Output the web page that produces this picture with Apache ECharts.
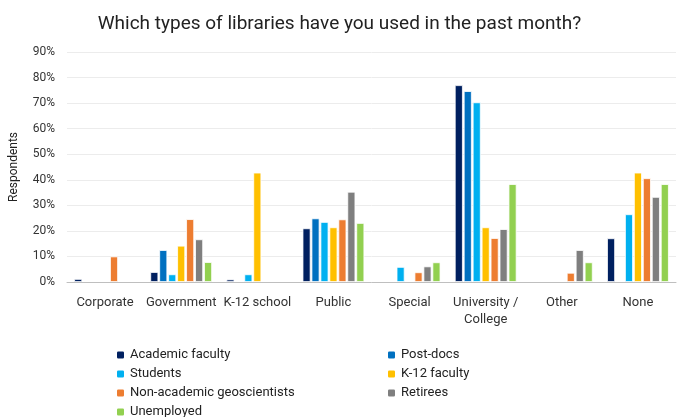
<!DOCTYPE html>
<html><head><meta charset="utf-8">
<script src="https://cdn.jsdelivr.net/npm/echarts@6/dist/echarts.min.js"></script>
<style>html,body{margin:0;padding:0;background:#fff}#c{width:679px;height:417px}</style>
</head><body><div id="c"></div>
<script>
var categories = ['Corporate','Government','K-12 school','Public','Special','University /\nCollege','Other','None'];
var seriesNames = ['Academic faculty','Post-docs','Students','K-12 faculty','Non-academic geoscientists','Retirees','Unemployed'];
var colors = ['#002060','#0070C0','#00B0F0','#FFC000','#ED7D31','#7F7F7F','#92D050'];
var academicFaculty = [1.2, 3.9, 1.0, 21.0, 0, 77.0, 0, 17.1];
var postDocs        = [0, 12.5, 0, 24.9, 0, 74.7, 0, 0];
var students        = [0, 3.0, 3.0, 23.5, 5.9, 70.3, 0, 26.5];
var k12Faculty      = [0, 14.2, 42.8, 21.4, 0, 21.4, 0, 42.8];
var nonAcademic     = [10.0, 24.6, 0, 24.5, 3.8, 17.2, 3.6, 40.6];
var retirees        = [0, 16.7, 0, 35.3, 6.1, 20.7, 12.5, 33.3];
var unemployed      = [0, 7.8, 0, 23.1, 7.7, 38.3, 7.7, 38.3];
var yTicks = [0,10,20,30,40,50,60,70,80,90];

var allData = [academicFaculty, postDocs, students, k12Faculty, nonAcademic, retirees, unemployed];
var font = 'Roboto';
var chart = echarts.init(document.getElementById('c'));
chart.setOption({
  animation: false,
  color: colors,
  title: {text: 'Which types of libraries have you used in the past month?', left: 'center', top: 10,
    textStyle: {fontFamily: font, fontSize: 19, fontWeight: 'normal', color: '#222'}},
  grid: {left: 66, right: 3, top: 52, bottom: 135},
  legend: {orient: 'horizontal', left: 115, top: 347, width: 560, itemWidth: 9, itemHeight: 9, itemGap: 3,
     data: seriesNames, padding: 0,
     textStyle: {fontFamily: font, fontSize: 13, color: '#222', width: 253, lineHeight: 16, padding: [0,0,0,0]}},
  xAxis: {type: 'category', data: categories, z: 5,
    axisLine: {lineStyle: {color: '#bfbfbf'}}, axisTick: {show: false},
    axisLabel: {fontFamily: font, fontSize: 13, color: '#333', margin: 12, interval: 0, lineHeight: 17}},
  yAxis: {type: 'value', min: yTicks[0], max: yTicks[yTicks.length-1], interval: 10,
    name: 'Respondents', nameLocation: 'middle', nameGap: 47,
    nameTextStyle: {fontFamily: font, fontSize: 12, color: '#222'},
    axisLabel: {formatter: '{value}%', fontFamily: font, fontSize: 12, color: '#333', margin: 12},
    splitLine: {lineStyle: {color: '#ececec'}}, axisLine: {show: false}, axisTick: {show: false}},
  series: seriesNames.map(function(n, i){
    return {name: n, type: 'bar', data: allData[i], barWidth: 8, barGap: '12%',
      itemStyle: {borderColor: '#fff', borderWidth: 0.8}};
  })
});
</script></body></html>
